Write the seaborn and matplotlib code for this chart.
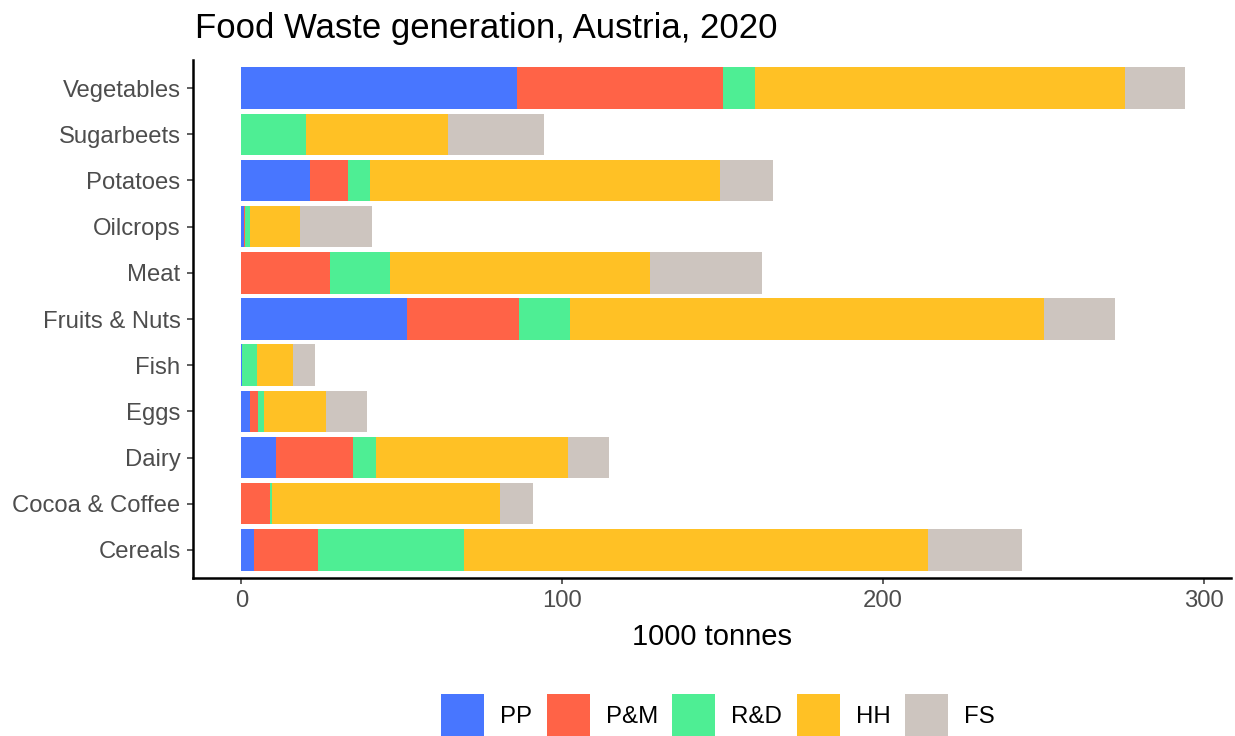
import numpy as np
import pandas as pd
import matplotlib
matplotlib.use("Agg")
import matplotlib.pyplot as plt
from matplotlib.patches import Patch
import seaborn as sns

categories = ["Vegetables", "Sugarbeets", "Potatoes", "Oilcrops", "Meat",
              "Fruits & Nuts", "Fish", "Eggs", "Dairy", "Cocoa & Coffee", "Cereals"]
series_names = ["PP", "P&M", "R&D", "HH", "FS"]
pp = [86.0, 0.0, 21.5, 0.8, 0.0, 51.8, 0.3, 2.8, 10.9, 0.0, 4.0]
pm = [64.2, 0.0, 11.8, 0.5, 27.7, 34.9, 0.0, 2.5, 24.0, 9.1, 19.9]
rd = [10.0, 20.1, 6.8, 1.5, 18.8, 15.8, 4.7, 1.9, 7.2, 0.6, 45.5]
hh = [115.4, 44.2, 109.2, 15.5, 81.0, 147.6, 11.2, 19.3, 59.9, 71.0, 144.6]
fs = [18.7, 30.1, 16.5, 22.3, 34.9, 22.3, 6.8, 12.8, 12.5, 10.3, 29.3]
colors = ["#4876FF", "#FF6347", "#4EEE94", "#FFC125", "#CDC5BF"]
x_ticks = [0, 100, 200, 300]

sns.set_theme(style="white")
plt.rcParams["font.family"] = ["Liberation Sans", "DejaVu Sans"]

df = pd.DataFrame({"category": categories, "PP": pp, "P&M": pm, "R&D": rd, "HH": hh, "FS": fs})
cum = df[series_names].cumsum(axis=1)
cum["category"] = df["category"]

W, H = 1235, 736
fig = plt.figure(figsize=(W / 100, H / 100), dpi=100)
left, right, top, bottom = 193, 1231, 60.4, 577.6
ax = fig.add_axes([left / W, 1 - bottom / H, (right - left) / W, (bottom - top) / H])

# draw cumulative totals from the last series backwards to get stacked bars
for name, col in reversed(list(zip(series_names, colors))):
    sns.barplot(data=cum, x=name, y="category", order=categories, color=col,
                saturation=1, width=0.9, orient="h", ax=ax, linewidth=0, errorbar=None)

ax.set_xlim(-15.04, 308.5)
ax.set_ylim(len(categories) - 1 + 0.6, -0.6)
ax.set_xticks(x_ticks)
ax.set_xticklabels([str(t) for t in x_ticks])
ax.set_ylabel("")
ax.set_xlabel("1000 tonnes", fontsize=21, color="black", labelpad=8)
for s in ["top", "right"]:
    ax.spines[s].set_visible(False)
for s in ["left", "bottom"]:
    ax.spines[s].set_color("black")
    ax.spines[s].set_linewidth(1.8)
ax.tick_params(axis="both", which="both", length=4.5, width=1.1, color="#333333",
               labelsize=17.2, labelcolor="#4D4D4D", pad=4.5, left=True, bottom=True)

fig.text(195 / W, 1 - 38 / H, "Food Waste generation, Austria, 2020",
         fontsize=25, color="black", ha="left", va="baseline")

handles = [Patch(facecolor=c, edgecolor="none", label=n) for n, c in zip(series_names, colors)]
leg = fig.legend(handles=handles, loc="lower left", bbox_to_anchor=(441 / W, 0.0),
                 ncol=5, frameon=False, fontsize=17.3, handlelength=1.79, handleheight=2.3,
                 handletextpad=0.67, columnspacing=0.6, borderpad=0.0, borderaxespad=0.0,
                 labelcolor="black")

fig.savefig("out.png", dpi=100)
